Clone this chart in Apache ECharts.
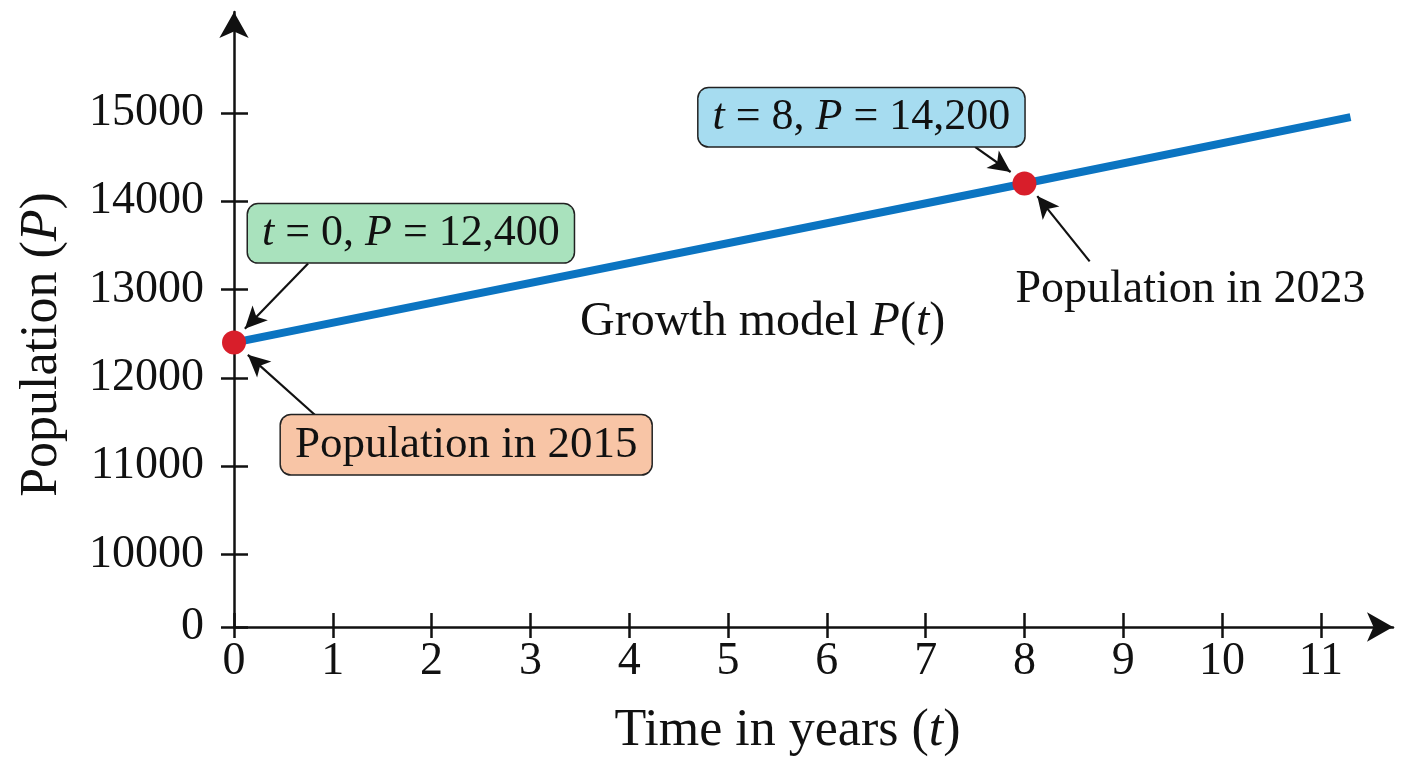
<!DOCTYPE html>
<html>
<head>
<meta charset="utf-8">
<script src="https://cdn.jsdelivr.net/npm/echarts@6/dist/echarts.min.js"></script>
<style>
  html, body { margin: 0; background: #fff; }
  #main { width: 1408px; height: 768px; }
</style>
</head>
<body>
<div id="main"></div>
<script>
const myChart = echarts.init(document.getElementById('main'))

// growth model line (t in years, P population)
const years = [0, 8, 11.3]
const population = [12400, 14200, 14950]
// the two marked years
const markedYears = [0, 8]
const markedPopulation = [12400, 14200]
// tick values
const xTicks = [0, 1, 2, 3, 4, 5, 6, 7, 8, 9, 10, 11]
const yTicks = [0, 10000, 11000, 12000, 13000, 14000, 15000]

const FONT = 'Liberation Serif'
const INK = '#111'

const richFor = size => ({
  i: { fontFamily: FONT, fontStyle: 'italic', fontSize: size, color: INK }
})

// annotation boxes / texts, placed in data coords
const notes = [
  { text: '{i|t} = 0, {i|P} = 12,400', coord: [1.79, 13636], bg: '#a9e2bd', size: 44 },
  { text: 'Population in 2015', coord: [2.35, 11244], bg: '#f8c5a6', size: 45 },
  { text: '{i|t} = 8, {i|P} = 14,200', coord: [6.35, 14949], bg: '#a6dcf0', size: 44 },
  { text: 'Population in 2023', coord: [9.68, 13000], bg: null, size: 46 },
  { text: 'Growth model {i|P}({i|t})', coord: [5.35, 12625], bg: null, size: 48 }
]
// arrows: [from, to]
const arrows = [
  [[0.75, 13295], [0.11, 12557]],
  [[0.82, 11580], [0.14, 12261]],
  [[7.50, 14614], [7.86, 14330]],
  [[8.66, 13318], [8.13, 14057]]
]

const yBreaks = [{ start: 0, end: 10000, gap: 818 }]

const tickStyle = { color: INK, width: 2.5 }
const lineArrow = {
  show: true, onZero: false,
  lineStyle: { color: INK, width: 2.5 },
  symbol: ['none', 'arrow'], symbolSize: [22, 26]
}

const baseX = {
  type: 'value', position: 'bottom', offset: 0,
  min: 0, max: 11.73, interval: 1,
  splitLine: { show: false }
}
const baseY = {
  type: 'value', position: 'left', offset: 0,
  min: 0, max: 16140, interval: 1000,
  breaks: yBreaks,
  breakArea: { show: false },
  splitLine: { show: false }
}

var option = {
  backgroundColor: '#fff',
  animation: false,
  grid: { left: 234, right: 15, top: 12, bottom: 141, containLabel: false },
  xAxis: [
    Object.assign({}, baseX, {
      axisLine: lineArrow,
      axisTick: { show: true, length: 11, lineStyle: tickStyle, customValues: xTicks },
      axisLabel: {
        fontFamily: FONT, fontSize: 46, color: INK, margin: 12,
        customValues: xTicks, formatter: v => String(v)
      },
      name: 'Time in years ({i|t})',
      nameLocation: 'middle',
      nameGap: 78,
      nameTextStyle: {
        fontFamily: FONT, fontSize: 52, color: INK,
        padding: [0, 52, 0, 0],
        rich: richFor(52)
      }
    }),
    // ticks on the inner side so they cross the axis line
    Object.assign({}, baseX, {
      axisLine: { show: false },
      axisTick: { show: true, inside: true, length: 14, lineStyle: tickStyle, customValues: xTicks },
      axisLabel: { show: false }
    })
  ],
  yAxis: [
    Object.assign({}, baseY, {
      axisLine: { show: false },
      axisTick: { show: true, length: 13, lineStyle: tickStyle, customValues: yTicks },
      axisLabel: {
        fontFamily: FONT, fontSize: 46, color: INK, margin: 30,
        customValues: yTicks, formatter: v => String(v)
      },
      name: 'Population ({i|P})',
      nameLocation: 'middle',
      nameGap: 166,
      nameTextStyle: {
        fontFamily: FONT, fontSize: 52, color: INK,
        padding: [0, 50, 0, 0],
        rich: richFor(52)
      }
    }),
    Object.assign({}, baseY, {
      axisLine: { show: false },
      axisTick: { show: true, inside: true, length: 14, lineStyle: tickStyle, customValues: yTicks },
      axisLabel: { show: false }
    }),
    // plain axis line with the arrow head
    {
      type: 'value', position: 'left', offset: 0,
      min: 0, max: 16140,
      axisLine: lineArrow,
      axisTick: { show: false },
      axisLabel: { show: false },
      splitLine: { show: false }
    }
  ],
  series: [
    {
      name: 'Growth model',
      type: 'line',
      xAxisIndex: 0,
      yAxisIndex: 0,
      data: years.map((t, i) => [t, population[i]]),
      showSymbol: false,
      lineStyle: { color: '#0b74c1', width: 8 },
      z: 2,
      markLine: {
        silent: true,
        symbol: ['none', 'arrow'],
        symbolSize: [16, 22],
        label: { show: false },
        lineStyle: { color: INK, width: 2.2, type: 'solid' },
        data: arrows.map(a => [{ coord: a[0] }, { coord: a[1] }])
      },
      markPoint: {
        silent: true,
        symbol: 'rect',
        symbolSize: 1,
        itemStyle: { color: 'rgba(0,0,0,0)' },
        data: notes.map(n => ({
          coord: n.coord,
          label: {
            show: true,
            position: 'inside',
            formatter: n.text,
            fontFamily: FONT,
            fontSize: n.size,
            color: INK,
            lineHeight: n.size + 2,
            rich: richFor(n.size),
            backgroundColor: n.bg || 'transparent',
            borderColor: n.bg ? '#222' : 'transparent',
            borderWidth: n.bg ? 1.5 : 0,
            borderRadius: 10,
            padding: n.bg ? [6, 14, 6, 14] : 0
          }
        }))
      }
    },
    {
      name: 'Marked years',
      type: 'scatter',
      xAxisIndex: 0,
      yAxisIndex: 0,
      data: markedYears.map((t, i) => [t, markedPopulation[i]]),
      symbolSize: 24,
      itemStyle: { color: '#d81e2a', opacity: 1 },
      z: 5
    }
  ]
}

myChart.setOption(option)
</script>
</body>
</html>
